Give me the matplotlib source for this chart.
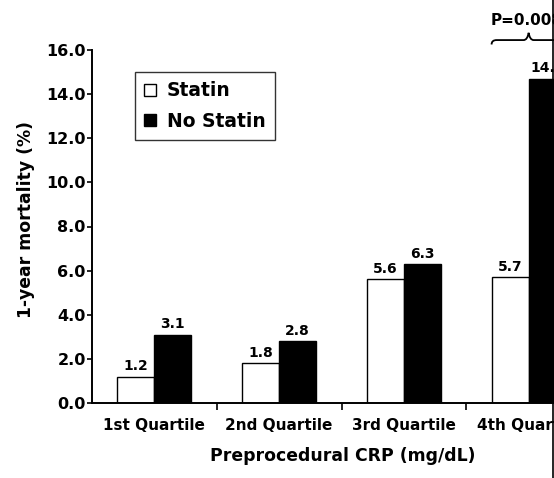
import matplotlib
matplotlib.use("Agg")
import matplotlib.pyplot as plt
import numpy as np
from matplotlib.patches import Patch, PathPatch
from matplotlib.path import Path
from matplotlib.lines import Line2D

categories = ["1st Quartile", "2nd Quartile", "3rd Quartile", "4th Quartile"]
statin = [1.2, 1.8, 5.6, 5.7]
no_statin = [3.1, 2.8, 6.3, 14.7]
yticks = [0, 2, 4, 6, 8, 10, 12, 14, 16]
p_text = "P=0.008"

plt.rcParams['font.family'] = ['DejaVu Sans']
plt.rcParams['font.weight'] = 'bold'

W, H = 554, 478
fig = plt.figure(figsize=(W / 100, H / 100), dpi=100)
ax = fig.add_axes([92 / W, 75 / H, 499 / W, 353 / H])

x = np.arange(len(categories))
bw = 0.297
b1 = ax.bar(x - bw / 2, statin, bw, color='white', edgecolor='black', linewidth=1.0, label='Statin')
b2 = ax.bar(x + bw / 2, no_statin, bw, color='black', edgecolor='black', linewidth=1.0, label='No Statin')

for bars, vals in ((b1, statin), (b2, no_statin)):
    for r, v in zip(bars, vals):
        ax.text(r.get_x() + r.get_width() / 2, v + 0.15, f"{v:.1f}", ha='center', va='bottom',
                fontsize=10, fontweight='bold', clip_on=False)

ax.set_xlim(-0.5, len(categories) - 0.5)
ax.set_ylim(0, 16)
ax.set_yticks(yticks)
ax.set_yticklabels([f"{t:.1f}" for t in yticks], fontsize=11.5, fontweight='bold')
ax.set_xticks(x)
ax.set_xticklabels(categories, fontsize=11, fontweight='bold')
ax.set_xticks(x[:-1] + 0.5, minor=True)
ax.tick_params(axis='x', which='major', length=0, pad=11)
ax.tick_params(axis='x', which='minor', length=5, width=1.2, direction='out')
ax.tick_params(axis='y', length=3.5, width=1.2, direction='out', pad=1)

for s in ('top', 'right'):
    ax.spines[s].set_visible(False)
for s in ('left', 'bottom'):
    ax.spines[s].set_linewidth(1.4)

ax.set_ylabel("1-year mortality (%)", fontsize=12.4, fontweight='bold')
ax.yaxis.set_label_coords(-0.115, 0.52)
ax.set_xlabel("Preprocedural CRP (mg/dL)", fontsize=12.4, fontweight='bold')
ax.xaxis.set_label_coords(0.502, -0.125)

handles = [Patch(facecolor='white', edgecolor='black', linewidth=1.0, label='Statin'),
           Patch(facecolor='black', edgecolor='black', linewidth=1.0, label='No Statin')]
leg = fig.legend(handles=handles, loc='upper left', bbox_to_anchor=(135 / W, 1 - 72 / H),
                 borderaxespad=0, frameon=True, fancybox=False, edgecolor='black',
                 prop={'size': 13.5, 'weight': 'bold'}, handlelength=0.6, handleheight=0.6,
                 handletextpad=0.6, labelspacing=0.6, borderpad=0.5)
leg.get_frame().set_linewidth(1.0)

# significance brace over the 4th quartile
cx = x[-1]
hw = bw
yb, yl, yp = 16.25, 16.45, 16.78
verts = [(cx - hw, yb), (cx - hw, yl), (cx - hw + 0.04, yl),
         (cx - 0.04, yl), (cx - 0.01, yl), (cx, yp),
         (cx + 0.01, yl), (cx + 0.04, yl), (cx + hw - 0.04, yl),
         (cx + hw, yl), (cx + hw, yb)]
codes = [Path.MOVETO, Path.CURVE3, Path.CURVE3,
         Path.LINETO, Path.CURVE3, Path.CURVE3,
         Path.CURVE3, Path.CURVE3, Path.LINETO,
         Path.CURVE3, Path.CURVE3]
ax.add_patch(PathPatch(Path(verts, codes), facecolor='none', edgecolor='black', lw=1.3, clip_on=False))
ax.text(cx - 0.02, 17.0, p_text, ha='center', va='bottom', fontsize=11, fontweight='bold', clip_on=False)

fig.add_artist(Line2D([552.5 / W] * 2, [0, 1], transform=fig.transFigure, color='black', lw=1.2))

fig.savefig("out.png", dpi=100)
